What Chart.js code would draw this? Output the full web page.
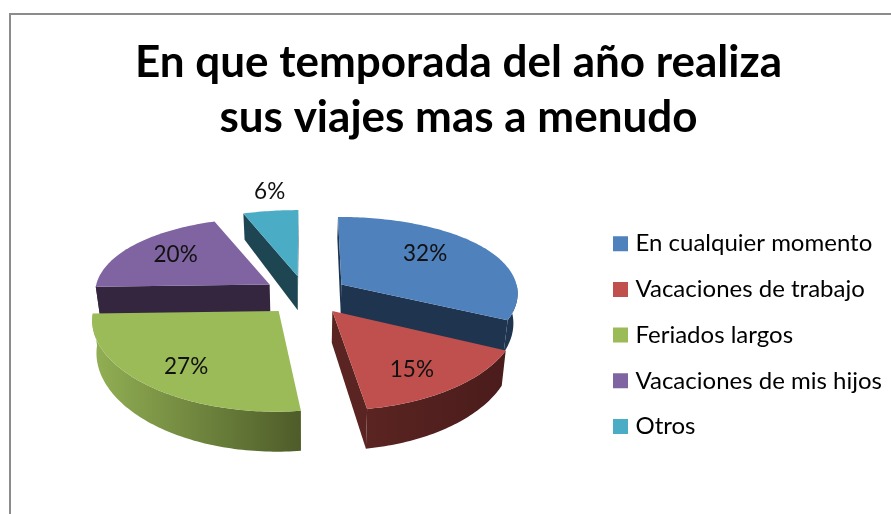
<!DOCTYPE html>
<html>
<head>
<meta charset="utf-8">
<style>
html,body{margin:0;padding:0;background:#fff;overflow:hidden}
#wrap{position:absolute;left:0;top:0;width:891px;height:514px}
canvas{filter:blur(0.4px)}
</style>
<script src="https://cdn.jsdelivr.net/npm/chart.js@4"></script>
</head>
<body>
<div id="wrap"><canvas id="c" width="891" height="514"></canvas></div>
<script>
const titleLines = ['En que temporada del año realiza', 'sus viajes mas a menudo'];
const categories = ['En cualquier momento', 'Vacaciones de trabajo', 'Feriados largos', 'Vacaciones de mis hijos', 'Otros'];
const shares = [32, 15, 27, 20, 6];

const topColors  = ['#4F81BD', '#C0504D', '#9BBB59', '#8064A2', '#4BACC6'];
const faceColors = ['#1F344F', '#5A2422', '#4F5F2B', '#35263F', '#1E4652'];
const wallLeft   = ['#1F344F', '#5A2422', '#92B054', '#35263F', '#1E4652'];
const wallRight  = ['#1F344F', '#4A1C1B', '#4E5C29', '#35263F', '#1E4652'];
const drawOrder  = [4, 3, 0, 2, 1];
const labelRadius = [0.72, 0.72, 0.72, 0.70, 1.40];
const labelNudgeX = [-19, -7, -6, 6, 11];
const labelNudgeY = [-2, 5, 2, -1, 0];
const radiusScale = [0.985, 1, 1.012, 0.975, 1];
const startShiftDeg = [0, 0, 3.8, 2, 1.5];
const endShiftDeg   = [0, 1.5, 2, 0, 0];
const depthBoost    = [0, 0, 0, 0, 6];

const CX = 305.5, CY = 295;

function project(X, Y) {
  return { x: CX + X * (1 + Y / 1900), y: CY + 0.462 * Y + 0.00036 * Y * Y };
}
function lower(X, Y, boost) {
  const p = project(X * 0.98, Y);
  return { x: p.x, y: p.y + 29 + (Y + 23) * 0.046 + boost };
}
function poly(ctx, pts) {
  ctx.beginPath();
  pts.forEach((p, i) => i ? ctx.lineTo(p.x, p.y) : ctx.moveTo(p.x, p.y));
  ctx.closePath();
}
function rim(arc, E, scale, from, to) {
  const mid = (arc.startAngle + arc.endAngle) / 2;
  const ox = Math.cos(mid) * E, oy = Math.sin(mid) * E;
  const R = arc.outerRadius * scale;
  const n = Math.max(2, Math.ceil((to - from) / 0.02));
  const out = [];
  for (let i = 0; i <= n; i++) {
    const a = from + (to - from) * i / n;
    out.push([ox + Math.cos(a) * R, oy + Math.sin(a) * R]);
  }
  return out;
}

const pie3d = {
  id: 'pie3d',
  afterLayout(chart) {
    const a = chart.chartArea;
    a.left = CX - 200; a.right = CX + 200; a.top = CY - 200; a.bottom = CY + 200;
    a.width = 400; a.height = 400;
    const l = chart.legend;
    const w = l.right - l.left, h = l.bottom - l.top;
    l.left = 595.8; l.right = l.left + w;
    l.top = 210; l.bottom = l.top + h;
  },
  beforeDraw(chart) {
    const ctx = chart.ctx;
    ctx.save();
    ctx.strokeStyle = '#8C8C8C';
    ctx.lineWidth = 2;
    ctx.beginPath();
    ctx.moveTo(10, 520);
    ctx.lineTo(10, 14);
    ctx.lineTo(900, 14);
    ctx.stroke();
    ctx.restore();
  },
  beforeDatasetDraw(chart, args) {
    const ctx = chart.ctx;
    const meta = chart.getDatasetMeta(args.index);
    const rad = Math.PI / 180;
    ctx.save();
    drawOrder.forEach(i => {
      const arc = meta.data[i];
      const E = arc.options.offset;
      const mid = (arc.startAngle + arc.endAngle) / 2;
      const ax = Math.cos(mid) * E, ay = Math.sin(mid) * E;
      const start = arc.startAngle + startShiftDeg[i] * rad;
      const end = arc.endAngle + endShiftDeg[i] * rad;
      const b = depthBoost[i];
      const pts = rim(arc, E, radiusScale[i], start, end);
      const first = pts[0], last = pts[pts.length - 1];

      const pA = project(ax, ay), pS = project(first[0], first[1]), pE = project(last[0], last[1]);
      ctx.fillStyle = faceColors[i];
      if (pS.x < pA.x) {
        poly(ctx, [pA, pS, lower(first[0], first[1], b), lower(ax, ay, b)]);
        ctx.fill();
      }
      if (pA.x < pE.x) {
        poly(ctx, [pE, pA, lower(ax, ay, b), lower(last[0], last[1], b)]);
        ctx.fill();
      }

      const from = Math.max(start, 0), to = Math.min(end, Math.PI);
      if (to > from) {
        const seg = rim(arc, E, radiusScale[i], from, to);
        const up = seg.map(q => project(q[0], q[1]));
        const dn = seg.map(q => lower(q[0], q[1], b)).reverse();
        const xs = up.concat(dn).map(p => p.x);
        const g = ctx.createLinearGradient(Math.min(...xs), 0, Math.max(...xs), 0);
        g.addColorStop(0, wallLeft[i]);
        g.addColorStop(1, wallRight[i]);
        ctx.fillStyle = g;
        poly(ctx, up.concat(dn));
        ctx.fill();
      }

      ctx.fillStyle = arc.options.backgroundColor;
      poly(ctx, [pA].concat(pts.map(q => project(q[0], q[1]))));
      ctx.fill();
    });
    ctx.fillStyle = '#111';
    ctx.font = '22.5px Lato';
    ctx.textAlign = 'center';
    ctx.textBaseline = 'middle';
    meta.data.forEach((arc, i) => {
      const E = arc.options.offset;
      const mid = (arc.startAngle + arc.endAngle) / 2;
      const r = E + arc.outerRadius * labelRadius[i];
      const p = project(Math.cos(mid) * r, Math.sin(mid) * r);
      ctx.fillText(shares[i] + '%', p.x + labelNudgeX[i], p.y + labelNudgeY[i]);
    });
    ctx.restore();
    return false;
  }
};

new Chart(document.getElementById('c'), {
  type: 'pie',
  data: {
    labels: categories,
    datasets: [{ data: shares, backgroundColor: topColors, borderWidth: 0, offset: 43, radius: 180 }]
  },
  options: {
    responsive: false,
    animation: false,
    events: [],
    radius: 180,
    layout: { padding: { left: 26, top: 0, right: 0, bottom: 0 } },
    plugins: {
      tooltip: { enabled: false },
      title: {
        display: true,
        text: titleLines,
        color: '#000',
        font: { family: 'Lato', size: 44, weight: 'bold', lineHeight: 1.25 },
        padding: { top: 35, bottom: 0 }
      },
      legend: {
        position: 'right',
        align: 'start',
        labels: {
          color: '#111',
          font: { family: 'Lato', size: 24 },
          boxWidth: 6,
          boxHeight: 6,
          padding: 21.7,
          generateLabels(chart) {
            return categories.map((text, i) => ({
              text, index: i,
              fillStyle: topColors[i], strokeStyle: topColors[i], lineWidth: 9, hidden: false
            }));
          }
        }
      }
    }
  },
  plugins: [pie3d]
});
</script>
</body>
</html>
